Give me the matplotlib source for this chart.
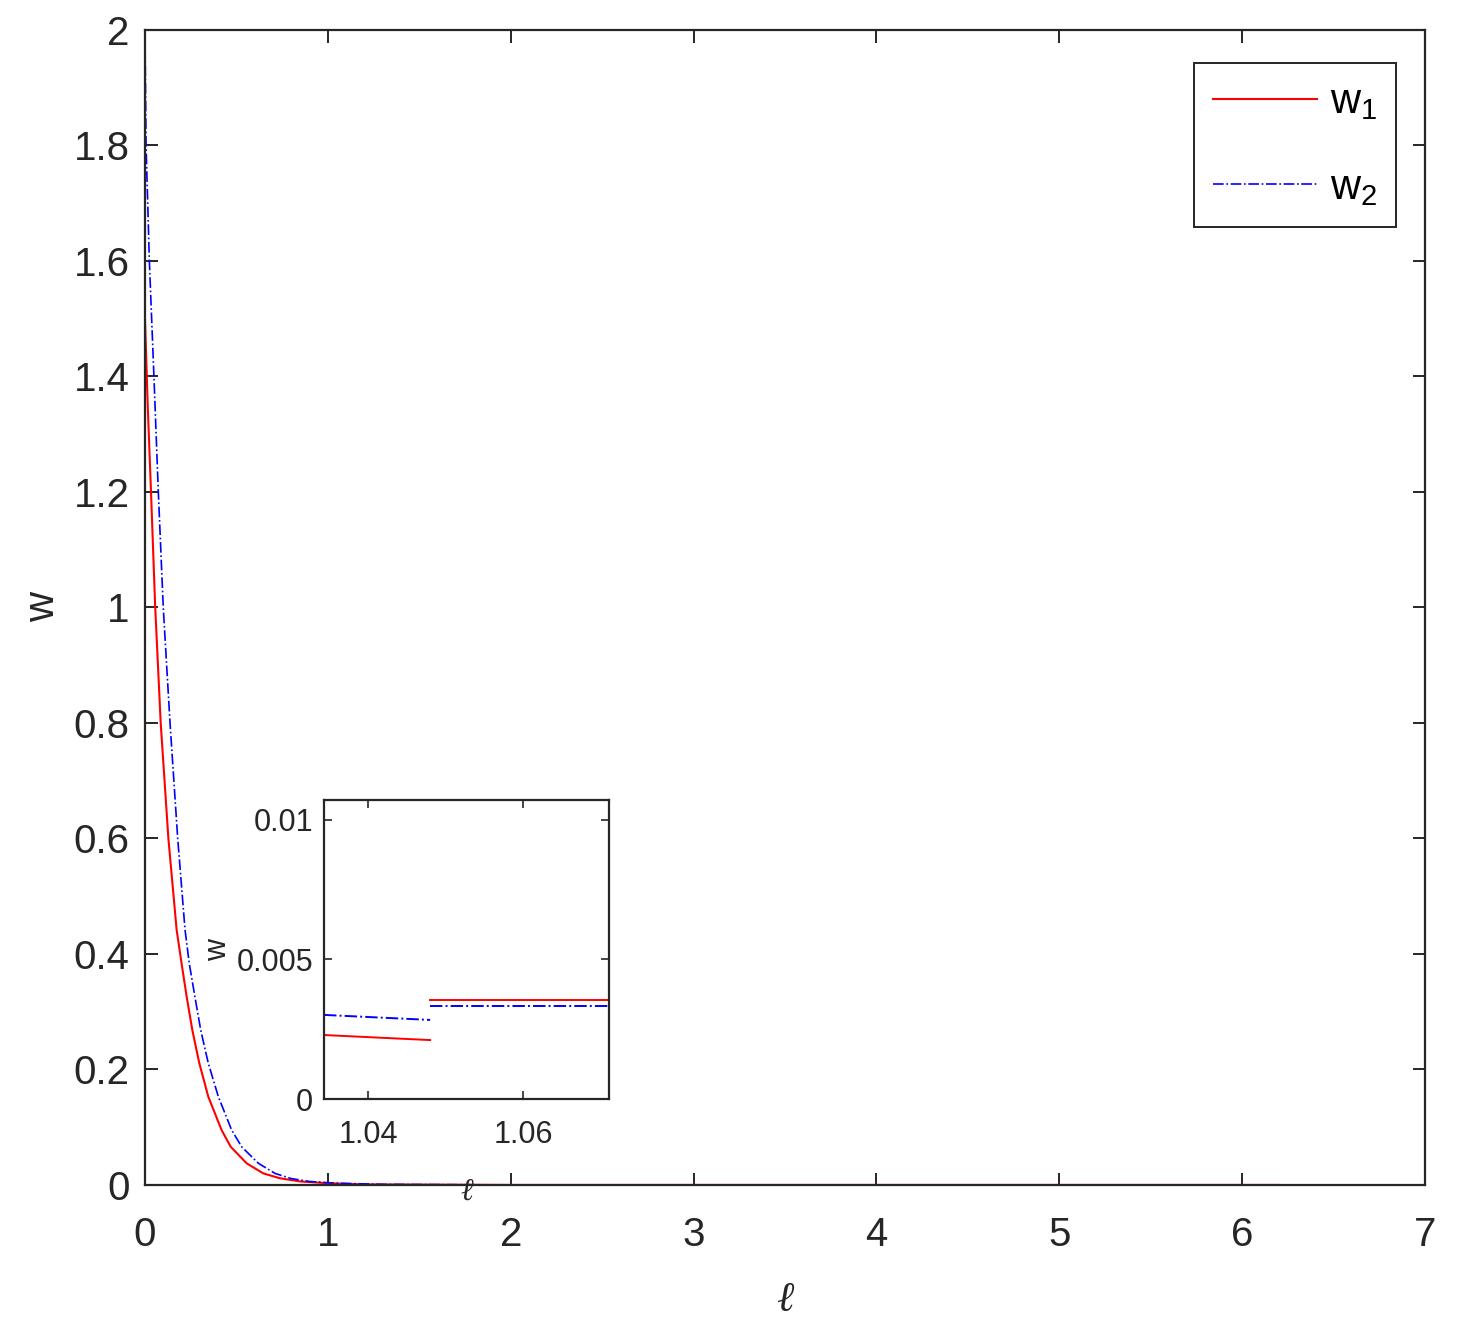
import matplotlib.pyplot as plt
import numpy as np

plt.rcParams['font.family'] = ['Liberation Sans', 'DejaVu Sans']
plt.rcParams['mathtext.fontset'] = 'custom'
plt.rcParams['mathtext.rm'] = 'Liberation Sans'
plt.rcParams['mathtext.it'] = 'Liberation Sans'

# main curves
ell_w1 = [0, 0.015, 0.033, 0.056, 0.086, 0.128, 0.173, 0.20, 0.228, 0.259,
          0.297, 0.346, 0.419, 0.469, 0.556, 0.647, 0.738, 0.85, 1.0, 1.2,
          2.0, 4.0, 6.2]
w1 = [1.5, 1.35, 1.2, 1.0, 0.8, 0.6, 0.442, 0.384, 0.326, 0.268,
      0.211, 0.153, 0.095, 0.066, 0.0375, 0.020, 0.0116, 0.006, 0.003, 0.001,
      0.0, 0.0, 0.0]

ell_w2 = [0, 0.006, 0.024, 0.049, 0.073, 0.100, 0.137, 0.179, 0.219, 0.242,
          0.273, 0.305, 0.346, 0.401, 0.474, 0.529, 0.620, 0.711, 0.80, 0.90,
          1.05, 1.3, 2.0, 4.0, 6.2]
w2 = [2.0, 1.8, 1.6, 1.4, 1.2, 1.0, 0.8, 0.6, 0.442, 0.384,
      0.326, 0.268, 0.211, 0.153, 0.095, 0.066, 0.0375, 0.020, 0.011, 0.006,
      0.003, 0.001, 0.0, 0.0, 0.0]

# zoomed segments for the inset
ins_ell_a = [1.0343, 1.0480]
ins_w1_a = [0.00229, 0.00211]
ins_w2_a = [0.00301, 0.00283]
ins_ell_b = [1.0480, 1.0711]
ins_w1_b = [0.00355, 0.00355]
ins_w2_b = [0.00333, 0.00333]

dark = '#262626'

fig = plt.figure(figsize=(14.57, 13.32), dpi=100)
ax = fig.add_axes([0.0995, 0.1104, 0.8786, 0.8671])
ax.plot(ell_w1, w1, color='red', lw=1.5, label=r'$\mathregular{w_1}$')
ax.plot(ell_w2, w2, color='blue', lw=1.2, ls='-.', label=r'$\mathregular{w_2}$')
ax.set_xlim(0, 7)
ax.set_ylim(0, 2)
ax.set_xticks(range(0, 8))
ax.set_yticks(np.round(np.arange(0, 2.01, 0.2), 1))
ax.set_yticklabels(['0', '0.2', '0.4', '0.6', '0.8', '1', '1.2', '1.4', '1.6', '1.8', '2'])
ax.tick_params(direction='in', length=9, width=1.4, top=True, right=True,
               labelsize=29, colors=dark)
ax.tick_params(axis='x', pad=22)
ax.tick_params(axis='y', pad=11)
for s in ax.spines.values():
    s.set_linewidth(1.6)
    s.set_color(dark)
ax.set_xlabel('ℓ', family=['Liberation Serif', 'DejaVu Serif'], style='italic',
              fontsize=30, color=dark, labelpad=20)
ax.set_ylabel('w', fontsize=30, color=dark, labelpad=8)

leg = ax.legend(loc='upper right', bbox_to_anchor=(0.977, 0.971), borderaxespad=0,
                fontsize=30, handlelength=2.5, labelspacing=1.1, fancybox=False,
                framealpha=1, edgecolor=dark, borderpad=0.45, handletextpad=0.3)
leg.get_frame().set_linewidth(1.4)

ins = fig.add_axes([0.2224, 0.1749, 0.1956, 0.2245])
ins.plot(ins_ell_a, ins_w1_a, color='red', lw=1.4)
ins.plot(ins_ell_b, ins_w1_b, color='red', lw=1.4)
ins.plot(ins_ell_a, ins_w2_a, color='blue', lw=1.4, ls='-.')
ins.plot(ins_ell_b, ins_w2_b, color='blue', lw=1.4, ls='-.')
ins.set_xlim(1.0343, 1.0711)
ins.set_ylim(0, 0.0107)
ins.set_xticks([1.04, 1.06])
ins.set_xticklabels(['1.04', '1.06'])
ins.set_yticks([0, 0.005, 0.01])
ins.set_yticklabels(['0', '0.005', '0.01'])
ins.tick_params(direction='in', length=6, width=1.2, top=True, right=True,
                labelsize=22, colors=dark, pad=8)
ins.tick_params(axis='x', pad=15)
for s in ins.spines.values():
    s.set_linewidth(1.6)
    s.set_color(dark)
ins.set_xlabel('ℓ', family=['Liberation Serif', 'DejaVu Serif'], style='italic',
               fontsize=22, color=dark, labelpad=20)
ins.set_ylabel('w', fontsize=22, color=dark, labelpad=2)

fig.savefig('out.png', dpi=100, facecolor='white')
